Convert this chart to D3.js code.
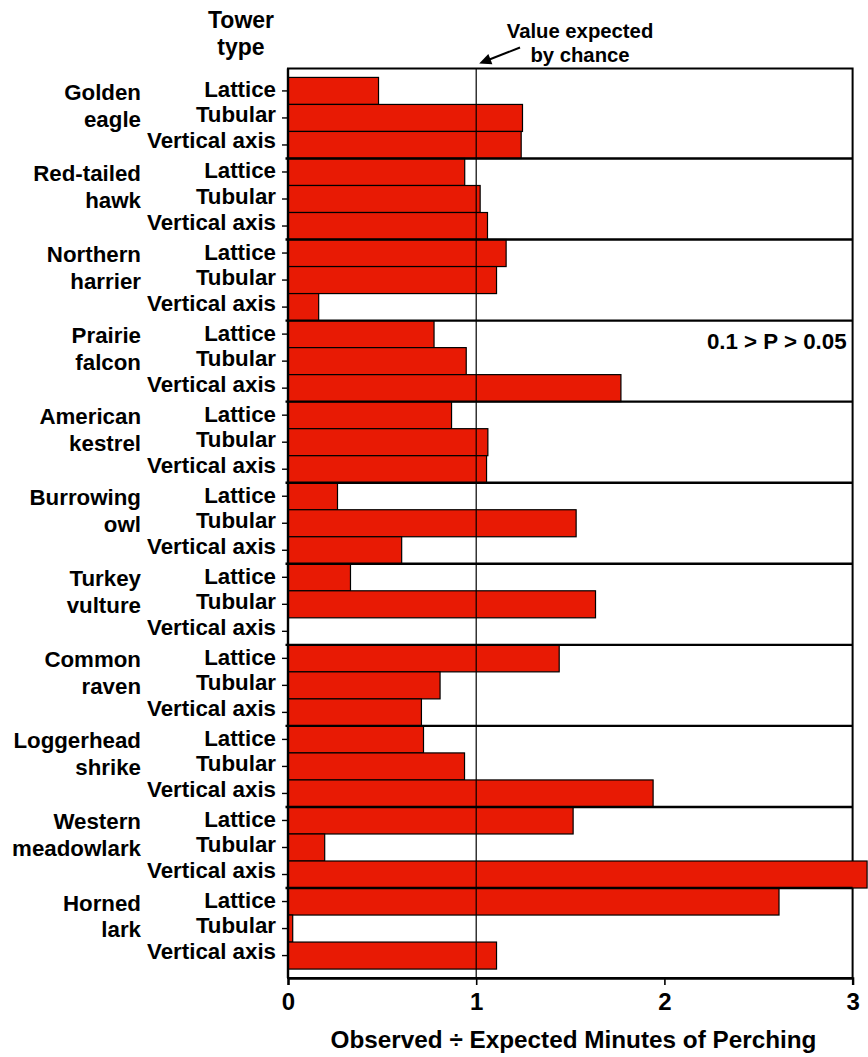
<!DOCTYPE html>
<html>
<head>
<meta charset="utf-8">
<script src="https://cdn.jsdelivr.net/npm/d3@7/dist/d3.min.js"></script>
<style>
  html, body { margin: 0; padding: 0; background: #fff; }
  svg { display: block; }
  text { font-family: "Liberation Sans", Arial, Helvetica, sans-serif; font-weight: bold; fill: #000; }
</style>
</head>
<body>
<div id="chart"></div>
<script>
// ---------- data ----------
const speciesLines = [
  ["Golden", "eagle"],
  ["Red-tailed", "hawk"],
  ["Northern", "harrier"],
  ["Prairie", "falcon"],
  ["American", "kestrel"],
  ["Burrowing", "owl"],
  ["Turkey", "vulture"],
  ["Common", "raven"],
  ["Loggerhead", "shrike"],
  ["Western", "meadowlark"],
  ["Horned", "lark"]
];
const towerTypes = ["Lattice", "Tubular", "Vertical axis"];
const latticeValues  = [0.481, 0.939, 1.159, 0.776, 0.869, 0.263, 0.332, 1.441, 0.720, 1.515, 2.609];
const tubularValues  = [1.246, 1.021, 1.108, 0.947, 1.062, 1.531, 1.634, 0.808, 0.938, 0.195, 0.025];
const verticalValues = [1.239, 1.060, 0.163, 1.769, 1.055, 0.604, 0.000, 0.709, 1.940, 3.077, 1.108];
const xTicks = [0, 1, 2, 3];
const expectedValue = 1;
const xAxisTitle = "Observed \u00f7 Expected Minutes of Perching";
const yHeader = ["Tower", "type"];
const chanceLabel = ["Value expected", "by chance"];
const pNote = "0.1 > P > 0.05";
const pNoteSpecies = 3; // Prairie falcon

(function () {
// ---------- build rows ----------
const seriesValues = [latticeValues, tubularValues, verticalValues];
const rows = [];
speciesLines.forEach((sp, i) => {
  towerTypes.forEach((t, j) => {
    rows.push({ id: i + "-" + j, species: i, type: j, label: t, value: seriesValues[j][i] });
  });
});

// ---------- layout ----------
const W = 868, H = 1057;
const pLeft = 288, pRight = 852.6, pTop = 68.5, pBottom = 978;
const svg = d3.select("#chart").append("svg").attr("width", W).attr("height", H);

const x = d3.scaleLinear().domain([0, 3]).range([pLeft, pRight]);
const y = d3.scaleBand().domain(rows.map(d => d.id)).range([pTop, pBottom]).paddingInner(0).paddingOuter(0.33);
const step = y.bandwidth();

// frame
svg.append("rect")
  .attr("x", pLeft).attr("y", pTop).attr("width", pRight - pLeft).attr("height", pBottom - pTop)
  .attr("fill", "#fff").attr("stroke", "#000").attr("stroke-width", 2);

// bars
svg.append("g").selectAll("rect").data(rows.filter(d => d.value > 0)).join("rect")
  .attr("x", x(0))
  .attr("y", d => y(d.id))
  .attr("width", d => x(d.value) - x(0))
  .attr("height", step)
  .attr("fill", "#e81a04")
  .attr("stroke", "#000")
  .attr("stroke-width", 1.2);

// group separator lines
svg.append("g").selectAll("line").data(d3.range(1, speciesLines.length)).join("line")
  .attr("x1", pLeft - 2.5).attr("x2", pRight)
  .attr("y1", i => y(i + "-0")).attr("y2", i => y(i + "-0"))
  .attr("stroke", "#000").attr("stroke-width", 2.4);

// expected value line
svg.append("line")
  .attr("x1", x(expectedValue)).attr("x2", x(expectedValue))
  .attr("y1", pTop).attr("y2", pBottom)
  .attr("stroke", "#000").attr("stroke-width", 1.2);

// left axis line + ticks
svg.append("line").attr("x1", pLeft).attr("x2", pLeft).attr("y1", pTop).attr("y2", pBottom)
  .attr("stroke", "#000").attr("stroke-width", 2.4);
svg.append("g").selectAll("line").data(rows).join("line")
  .attr("x1", pLeft - 6).attr("x2", pLeft)
  .attr("y1", d => y(d.id) + step / 2).attr("y2", d => y(d.id) + step / 2)
  .attr("stroke", "#000").attr("stroke-width", 1.4);

// bottom axis
const xAxis = d3.axisBottom(x).tickValues(xTicks).tickFormat(d3.format("d")).tickSize(7).tickPadding(8);
const gx = svg.append("g").attr("transform", `translate(0,${pBottom})`).call(xAxis);
gx.select(".domain").attr("stroke", "#000").attr("stroke-width", 2.4);
gx.selectAll(".tick line").attr("stroke", "#000").attr("stroke-width", 1.6);
gx.selectAll(".tick text").attr("font-size", 24).attr("fill", "#000")
  .attr("font-family", "'Liberation Sans', Arial, sans-serif").attr("font-weight", "bold");

// x axis title
svg.append("text").attr("x", 573.5).attr("y", 1048)
  .attr("text-anchor", "middle").attr("font-size", 24.3).text(xAxisTitle);

// tower type labels
const typeOffset = [6.5, 4.5, 3.5];
svg.append("g").selectAll("text").data(rows).join("text")
  .attr("x", 276)
  .attr("y", d => y(d.id) + step / 2 + typeOffset[d.type])
  .attr("text-anchor", "end").attr("font-size", 22.3)
  .text(d => d.label);

// species labels
const sg = svg.append("g");
speciesLines.forEach((lines, i) => {
  const t = sg.append("text").attr("text-anchor", "end").attr("font-size", 22.3);
  lines.forEach((ln, k) => {
    t.append("tspan").attr("x", 141)
      .attr("y", y(i + "-0") + step / 2 + 9 + k * 26.8)
      .text(ln);
  });
});

// header
svg.append("text").attr("text-anchor", "middle").attr("font-size", 23)
  .selectAll("tspan").data(yHeader).join("tspan")
  .attr("x", 241).attr("y", (d, k) => 27.5 + k * 27).text(d => d);

// chance annotation
svg.append("text").attr("text-anchor", "middle").attr("font-size", 20.3)
  .selectAll("tspan").data(chanceLabel).join("tspan")
  .attr("x", 580).attr("y", (d, k) => 37.5 + k * 24.5).text(d => d);

const tip = [x(expectedValue) + 3, pTop - 5];
const tail = [520, 47.5];
const ang = Math.atan2(tip[1] - tail[1], tip[0] - tail[0]);
const ah = 12, aw = 5.5;
svg.append("line")
  .attr("x1", tail[0]).attr("y1", tail[1])
  .attr("x2", tip[0] - Math.cos(ang) * ah * 0.8).attr("y2", tip[1] - Math.sin(ang) * ah * 0.8)
  .attr("stroke", "#000").attr("stroke-width", 2);
const bx = tip[0] - Math.cos(ang) * ah, by = tip[1] - Math.sin(ang) * ah;
svg.append("path")
  .attr("d", `M${tip[0]},${tip[1]} L${bx + Math.sin(ang) * aw},${by - Math.cos(ang) * aw} L${bx - Math.sin(ang) * aw},${by + Math.cos(ang) * aw} Z`)
  .attr("fill", "#000");

// P note
svg.append("text").attr("x", x(3) - 6)
  .attr("y", y(pNoteSpecies + "-0") + step / 2 + 14.5)
  .attr("text-anchor", "end").attr("font-size", 22.3).text(pNote);
})();
</script>
</body>
</html>
